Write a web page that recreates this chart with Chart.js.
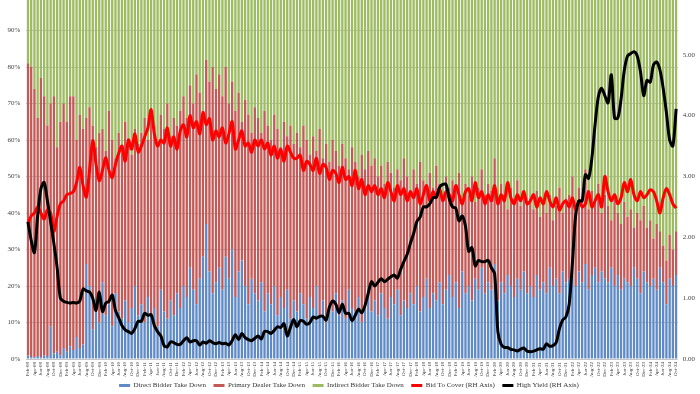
<!DOCTYPE html>
<html>
<head>
<meta charset="utf-8">
<script src="https://cdn.jsdelivr.net/npm/chart.js@4/dist/chart.umd.min.js"></script>
<style>
  html, body { margin: 0; padding: 0; background: #fff; }
  #wrap { width: 700px; height: 394px; }
</style>
</head>
<body>
<div id="wrap"><canvas id="c"></canvas></div>
<script>
// monthly auctions, Feb-08 .. Oct-24
const monthNames = ['Jan','Feb','Mar','Apr','May','Jun','Jul','Aug','Sep','Oct','Nov','Dec'];
const firstYear = 2008, firstMonth = 1, barCount = 201;

// % of auction taken down (direct / primary dealer); indirect = the rest
const directBidder = [
  1, 0.5, 0.5, 0.8, 0.5, 1, 0.8, 9, 1.5, 2, 1,
  3, 2, 3.5, 2.5, 6, 3, 4, 26, 20, 8, 14, 10,
  21, 12, 15, 9, 18, 13, 11, 16, 10, 14, 20, 12,
  15, 10, 17, 12, 14, 9, 19, 13, 11, 16, 12, 18,
  14, 20, 17, 25, 19, 15, 22, 28, 37, 24, 18, 21,
  25, 19, 28, 22, 30, 17, 24, 27, 20, 15, 22, 18,
  16, 21, 13, 18, 15, 20, 12, 17, 14, 19, 11, 16,
  13, 18, 15, 11, 17, 14, 20, 12, 16, 10, 15, 13,
  18, 12, 16, 11, 19, 14, 13, 17, 10, 15, 20, 13,
  16, 12, 18, 14, 11, 17, 15, 19, 12, 16, 14, 18,
  15, 20, 13, 17, 22, 14, 18, 16, 21, 15, 19, 23,
  17, 21, 14, 24, 18, 20, 16, 22, 19, 25, 18, 21,
  19, 26, 16, 21, 18, 23, 20, 17, 22, 19, 24, 18,
  20, 17, 23, 19, 21, 18, 25, 20, 22, 18, 24, 21,
  22, 25, 20, 24, 21, 26, 19, 23, 25, 21, 24, 22,
  21, 25, 20, 23, 19, 22, 21, 20, 25, 22, 18, 24,
  21, 20, 22, 19, 25, 21, 15, 22, 20, 23
];
const primaryDealer = [
  80, 79.5, 73.5, 65.2, 76.5, 71, 63.2, 61, 70.5, 56, 64,
  67, 63, 68.5, 69.5, 54, 64, 59, 40, 49, 56, 44, 52,
  42, 45, 53, 51, 37, 49, 47, 49, 50, 42, 43, 47,
  47, 56, 43, 56, 50, 49, 48, 50, 59, 45, 54, 46,
  54, 52, 49, 50, 51, 63, 51, 40, 45, 52, 62, 53,
  53, 53, 52, 48, 46, 51, 49, 38, 51, 52, 40, 51,
  50, 41, 55, 46, 45, 47, 51, 41, 51, 42, 53, 43,
  49, 40, 49, 49, 39, 47, 37, 51, 39, 49, 39, 47,
  39, 41, 43, 44, 33, 44, 41, 33, 46, 37, 37, 40,
  39, 38, 35, 34, 43, 34, 32, 33, 37, 39, 36, 28,
  37, 28, 41, 32, 24, 37, 29, 37, 27, 30, 31, 24,
  32, 25, 37, 20, 30, 25, 34, 21, 28, 27, 27, 27,
  27, 29, 27, 27, 27, 18, 27, 27, 27, 23, 22, 25,
  24, 24, 23, 20, 22, 22, 20, 18, 20, 29, 16, 23,
  23, 25, 22, 23, 23, 26, 22, 23, 18, 27, 16, 23,
  21, 13, 24, 17, 18, 21, 18, 21, 11, 18, 20, 18,
  15, 18, 11, 18, 10, 10, 12, 12, 10, 12
];
// right axis
const bidToCover = [
  2.23, 2.35, 2.4, 2.5, 2.4, 2.3, 2.45, 2.4, 2.1, 2.35, 2.55,
  2.6, 2.7, 2.72, 2.75, 2.9, 3.15, 2.85, 2.66, 3.1, 3.59, 3.2, 2.93,
  3.1, 3.31, 3.1, 2.98, 3.2, 3.38, 3.5, 3.25, 3.6, 3.45, 3.7, 3.4,
  3.5, 3.65, 3.8, 4.1, 3.7, 3.5, 3.6, 3.55, 3.8, 3.5, 3.65, 3.45,
  3.75, 3.85, 3.65, 4.0, 3.8, 3.9, 3.7, 4.05, 3.85, 3.95, 3.6, 3.75,
  3.65, 3.8, 3.55, 3.7, 3.9, 3.45, 3.6, 3.75, 3.5, 3.55, 3.4, 3.6,
  3.5, 3.6, 3.45, 3.55, 3.35, 3.5, 3.3, 3.45, 3.25, 3.5, 3.4, 3.3,
  3.3, 3.35, 3.1, 3.25, 3.2, 3.1, 3.3, 3.05, 3.2, 3.15, 2.95, 3.1,
  3.05, 2.9, 3.15, 2.95, 3.0, 2.85, 3.1, 2.8, 2.95, 2.7, 2.85, 2.75,
  2.85, 2.7, 2.8, 2.65, 2.9, 2.75, 2.6, 2.85, 2.7, 2.8, 2.6, 2.75,
  2.65, 2.8, 2.55, 2.7, 2.85, 2.6, 2.75, 2.65, 2.8, 2.6, 2.75, 2.7,
  2.6, 2.85, 2.7, 2.55, 2.75, 2.8, 2.6, 2.9, 2.65, 2.75, 2.55, 2.7,
  2.6, 2.85, 2.55, 2.7, 2.6, 2.9, 2.65, 2.55, 2.7, 2.6, 2.75, 2.55,
  2.6, 2.7, 2.5, 2.65, 2.55, 2.75, 2.6, 2.5, 2.65, 2.45, 2.55, 2.6,
  2.5, 2.65, 2.45, 2.6, 2.5, 2.55, 2.75, 2.5, 2.6, 2.7, 2.5, 3.0,
  2.75, 2.6, 2.7, 2.55, 2.65, 2.9, 2.75, 2.95, 2.7, 2.6, 2.75, 2.65,
  2.7, 2.78, 2.75, 2.6, 2.4, 2.65, 2.8, 2.7, 2.55, 2.48
];
const highYield = [
  2.25, 1.95, 1.75, 2.35, 2.8, 2.9, 2.6, 2.25, 1.9, 1.5, 1.0,
  0.95, 0.93, 0.92, 0.93, 0.92, 0.95, 1.15, 1.12, 1.1, 1.0, 0.8, 1.1,
  0.78, 0.92, 0.95, 1.05, 0.8, 0.68, 0.55, 0.48, 0.45, 0.42, 0.5, 0.62,
  0.62, 0.75, 0.72, 0.73, 0.55, 0.45, 0.38, 0.22, 0.2, 0.28, 0.27, 0.24,
  0.24, 0.3, 0.35, 0.28, 0.3, 0.3, 0.23, 0.28, 0.26, 0.3, 0.27, 0.25,
  0.27, 0.25, 0.26, 0.23, 0.3, 0.4, 0.32, 0.42, 0.35, 0.32, 0.3, 0.34,
  0.38, 0.33, 0.45, 0.45, 0.42, 0.47, 0.53, 0.52, 0.58, 0.38, 0.52, 0.65,
  0.53, 0.63, 0.62, 0.57, 0.6, 0.69, 0.67, 0.7, 0.7, 0.64, 0.85, 0.95,
  0.9, 0.76, 0.9, 0.75, 0.75, 0.63, 0.72, 0.82, 0.76, 0.88, 1.08, 1.27,
  1.2, 1.26, 1.32, 1.27, 1.31, 1.35, 1.38, 1.33, 1.47, 1.6, 1.72, 1.9,
  2.06, 2.26, 2.33, 2.5, 2.5, 2.55, 2.65, 2.66, 2.82, 2.87, 2.87, 2.63,
  2.5, 2.48, 2.27, 2.35, 2.18, 1.77, 1.83, 1.53, 1.62, 1.6, 1.6, 1.62,
  1.5, 1.4, 0.45, 0.24, 0.19, 0.19, 0.16, 0.15, 0.13, 0.16, 0.18, 0.13,
  0.12, 0.13, 0.15, 0.17, 0.16, 0.25, 0.21, 0.22, 0.27, 0.5, 0.64, 0.69,
  0.9, 1.58, 2.36, 2.6, 2.6, 3.03, 2.97, 3.3, 3.86, 4.31, 4.45, 4.33,
  4.21, 4.67, 3.96, 3.96, 4.27, 4.74, 4.98, 5.02, 5.05, 4.98, 4.72, 4.33,
  4.58, 4.55, 4.83, 4.88, 4.75, 4.45, 4.05, 3.6, 3.5, 4.11
];

const leftTicks = [0, 10, 20, 30, 40, 50, 60, 70, 80, 90];
const rightTicks = [0, 1, 2, 3, 4, 5];

const labels = [];
for (let i = 0; i < barCount; i++) {
  const m = (firstMonth + i) % 12;
  const y = firstYear + Math.floor((firstMonth + i) / 12);
  labels.push(monthNames[m] + '-' + String(y).slice(2));
}
const indirectBidder = directBidder.map((d, i) => +(100 - d - primaryDealer[i]).toFixed(2));

const serif = 'Liberation Serif';
const noPad = s => { s.paddingTop = 0; s.paddingBottom = 0; s.paddingLeft = 0; s.paddingRight = 0; };
const bar = (label, data, color) => ({
  type: 'bar', label, data, backgroundColor: color, borderWidth: 0,
  yAxisID: 'y', stack: 's', order: 3, barPercentage: 0.72, categoryPercentage: 1
});
const line = (label, data, color, order) => ({
  type: 'line', label, data, borderColor: color, backgroundColor: color,
  borderWidth: 3, pointRadius: 0, tension: 0.3, yAxisID: 'y1', order
});

new Chart(document.getElementById('c'), {
  data: {
    labels,
    datasets: [
      bar('Direct Bidder Take Down', directBidder, '#5f8ac6'),
      bar('Primary Dealer Take Down', primaryDealer, '#c45a57'),
      bar('Indirect Bidder Take Down', indirectBidder, '#9dbb62'),
      line('Bid To Cover (RH Axis)', bidToCover, '#ff0000', 1),
      line('High Yield (RH Axis)', highYield, '#000000', 0)
    ]
  },
  options: {
    responsive: true,
    maintainAspectRatio: false,
    animation: false,
    layout: { padding: { left: 1.5, right: 0, top: 0, bottom: -5 } },
    scales: {
      x: {
        stacked: true,
        afterFit: s => { noPad(s); s.height = 19; },
        grid: { display: false, drawTicks: false },
        border: { display: false },
        ticks: {
          autoSkip: false, minRotation: 90, maxRotation: 90, padding: 3,
          color: '#333', font: { family: serif, size: 5 },
          callback: function (v, i) { return i % 2 === 0 ? this.getLabelForValue(v) : ''; }
        }
      },
      y: {
        stacked: true, min: 0, max: 98.36, z: 1,
        afterBuildTicks: s => { s.ticks = leftTicks.map(value => ({ value })); },
        afterFit: noPad,
        grid: { color: 'rgba(90,90,90,0.35)', lineWidth: 1, drawTicks: false },
        border: { display: false },
        ticks: { padding: 6, color: '#444', font: { family: serif, size: 7 }, callback: v => v + '%' }
      },
      y1: {
        position: 'right', min: 0, max: 5.9,
        afterBuildTicks: s => { s.ticks = rightTicks.map(value => ({ value })); },
        afterFit: noPad,
        grid: { display: false, drawTicks: false },
        border: { display: false },
        ticks: { padding: 5, color: '#444', font: { family: serif, size: 7 }, callback: v => v.toFixed(2) }
      }
    },
    plugins: {
      legend: {
        position: 'bottom',
        labels: {
          boxWidth: 11, boxHeight: 3, padding: 4, color: '#333',
          font: { family: serif, size: 7 },
          sort: (a, b) => a.datasetIndex - b.datasetIndex,
          generateLabels: chart => Chart.defaults.plugins.legend.labels.generateLabels(chart)
            .map(l => Object.assign(l, {
              text: l.text + '\u2002',
              lineWidth: 0,
              fillStyle: chart.data.datasets[l.datasetIndex].backgroundColor
            }))
        }
      },
      tooltip: { enabled: false }
    }
  }
});
</script>
</body>
</html>
